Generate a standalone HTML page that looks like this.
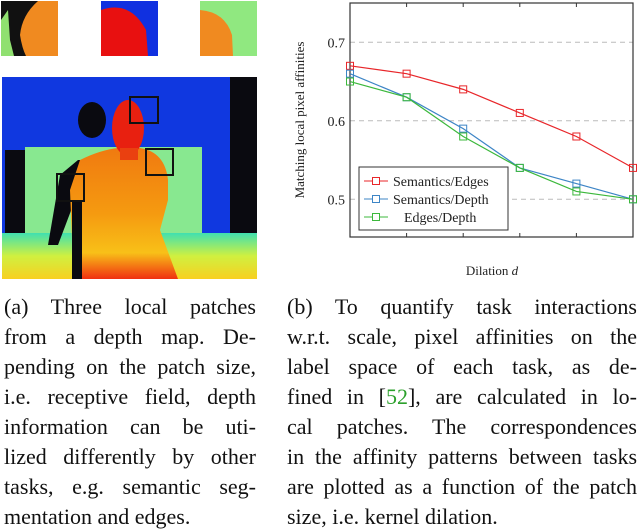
<!DOCTYPE html>
<html><head><meta charset="utf-8"><style>
body{margin:0;width:640px;height:529px;background:#fff;position:relative;overflow:hidden;font-family:"Liberation Serif",serif;}
.ln{position:absolute;font-size:22px;line-height:24px;white-space:nowrap;text-align:justify;text-align-last:justify;color:#111;}
.last{text-align-last:left;}
</style></head><body>
<svg style="position:absolute;left:0;top:0" width="270" height="285">
<defs>
<linearGradient id="body" x1="0" y1="0" x2="0" y2="1"><stop offset="0" stop-color="#f07a10"/><stop offset="0.5" stop-color="#f59a10"/><stop offset="0.8" stop-color="#f8c018"/><stop offset="1" stop-color="#f03010"/></linearGradient>
<linearGradient id="floor" x1="0" y1="0" x2="0" y2="1"><stop offset="0" stop-color="#40e0b0"/><stop offset="0.5" stop-color="#d0f040"/><stop offset="1" stop-color="#f8d020"/></linearGradient>
</defs>
<g><rect x="1" y="1" width="57" height="55" fill="#f08a20"/><path d="M1 1 L38 1 Q22 15 20 35 Q22 48 26 56 L1 56 Z" fill="#111"/><path d="M1 20 L8 10 L10 40 L14 56 L1 56Z" fill="#90e070"/></g>
<g><rect x="101" y="1" width="57" height="55" fill="#1030e0"/><path d="M101 10 Q130 0 146 30 L148 56 L101 56Z" fill="#e81010"/></g>
<g><rect x="200" y="1" width="57" height="55" fill="#90e880"/><path d="M200 10 Q225 12 232 35 L233 56 L200 56Z" fill="#f08a20"/></g>
<g>
<rect x="2" y="77" width="255" height="202" fill="#1038e0"/>
<rect x="230" y="77" width="27" height="165" fill="#0a0a10"/>
<rect x="25" y="147" width="177" height="90" fill="#88e890"/>
<rect x="5" y="150" width="20" height="90" fill="#0a0a10"/>
<rect x="2" y="233" width="255" height="46" fill="url(#floor)"/>
<ellipse cx="92" cy="120" rx="14" ry="18" fill="#0a0a10"/>
<path d="M60 175 L78 160 L90 160 L75 200 L58 245 L48 245Z" fill="#0a0a10"/>
<path d="M77 279 L72 240 L70 190 L80 160 Q100 150 118 148 L140 148 Q165 152 168 180 L168 200 L160 230 L178 279Z" fill="url(#body)"/>
<rect x="72" y="200" width="10" height="79" fill="#0a0a10"/>
<ellipse cx="128" cy="128" rx="16" ry="28" fill="#e82010"/>
<rect x="120" y="148" width="18" height="12" fill="#ea4010"/>
<rect x="130" y="97" width="28" height="26" fill="none" stroke="#111" stroke-width="2"/>
<rect x="146" y="149" width="27" height="26" fill="none" stroke="#111" stroke-width="2"/>
<rect x="57" y="174" width="27" height="27" fill="none" stroke="#111" stroke-width="2"/>
</g>
</svg>

<svg id="chart" style="position:absolute;left:280px;top:0" width="360" height="290"></svg>

<div>
<div class="ln" style="left:4px;top:295px;width:252px">(a) Three local patches</div>
<div class="ln" style="left:4px;top:325px;width:252px">from a depth map. De-</div>
<div class="ln" style="left:4px;top:355px;width:252px">pending on the patch size,</div>
<div class="ln" style="left:4px;top:385px;width:252px">i.e. receptive field, depth</div>
<div class="ln" style="left:4px;top:415px;width:252px">information can be uti-</div>
<div class="ln" style="left:4px;top:445px;width:252px">lized differently by other</div>
<div class="ln" style="left:4px;top:475px;width:252px">tasks, e.g. semantic seg-</div>
<div class="ln last" style="left:4px;top:505px;width:252px">mentation and edges.</div>
</div>
<div>
<div class="ln" style="left:287px;top:295px;width:350px">(b) To quantify task interactions</div>
<div class="ln" style="left:287px;top:325px;width:350px">w.r.t. scale, pixel affinities on the</div>
<div class="ln" style="left:287px;top:355px;width:350px">label space of each task, as de-</div>
<div class="ln" style="left:287px;top:385px;width:350px">fined in [<span style="color:#2ca02c">52</span>], are calculated in lo-</div>
<div class="ln" style="left:287px;top:415px;width:350px">cal patches. The correspondences</div>
<div class="ln" style="left:287px;top:445px;width:350px">in the affinity patterns between tasks</div>
<div class="ln" style="left:287px;top:475px;width:350px">are plotted as a function of the patch</div>
<div class="ln last" style="left:287px;top:505px;width:350px">size, i.e. kernel dilation.</div>
</div>

<script>
const categories = [1, 2, 3, 4, 5, 6];
const semEdges = [0.67, 0.66, 0.64, 0.61, 0.58, 0.54];
const semDepth = [0.66, 0.63, 0.59, 0.54, 0.52, 0.50];
const edgesDepth = [0.65, 0.63, 0.58, 0.54, 0.51, 0.50];
const yTicks = [0.5, 0.6, 0.7];
const seriesNames = ["Semantics/Edges", "Semantics/Depth", "Edges/Depth"];

const svg = document.getElementById('chart');
const NS = 'http://www.w3.org/2000/svg';
const L = 70, R = 353, T = 3, B = 237;
const yMin = 0.452, yMax = 0.75;
const xs = i => L + (R - L) * i / (categories.length - 1);
const ys = v => B - (v - yMin) / (yMax - yMin) * (B - T);
function mk(tag, attrs, parent) {
  const e = document.createElementNS(NS, tag);
  for (const k in attrs) e.setAttribute(k, attrs[k]);
  (parent || svg).appendChild(e);
  return e;
}
yTicks.forEach(t => {
  const g = mk('line', {x1: L, x2: R, y1: ys(t), y2: ys(t), stroke: '#bbb', 'stroke-dasharray': '5,4', 'stroke-width': 1});
  
  
  const tx = mk('text', {x: L - 5, y: ys(t) + 5, 'text-anchor': 'end', 'font-size': 14, 'font-family': 'Liberation Serif, serif', fill: '#222'});
  tx.textContent = t.toFixed(1);
  
  
});
categories.forEach((c, i) => {
  if (i > 0 && i < categories.length - 1) {
    mk('line', {x1: xs(i), x2: xs(i), y1: B, y2: B - 4, stroke: '#333'});
    mk('line', {x1: xs(i), x2: xs(i), y1: T, y2: T + 4, stroke: '#333'});
  }
});
const frame = mk('rect', {x: L, y: T, width: R - L, height: B - T, fill: 'none', stroke: '#333', 'stroke-width': 1.2});



const colors = ['#e8262a', '#3d85c6', '#3cb83c'];
[semEdges, semDepth, edgesDepth].forEach((s, k) => {
  const g = mk('g', {});
  
  
  mk('polyline', {points: s.map((v, i) => xs(i) + ',' + ys(v)).join(' '), fill: 'none', stroke: colors[k], 'stroke-width': 1.2}, g);
  s.forEach((v, i) => {
    const m = mk('rect', {x: xs(i) - 3.5, y: ys(v) - 3.5, width: 7, height: 7, fill: 'none', stroke: colors[k], 'stroke-width': 1}, g);
    
    
  });
});
const lg = mk('g', {});


mk('rect', {x: 79, y: 167, width: 149, height: 63, fill: '#fff', stroke: '#333', 'stroke-width': 1}, lg);
seriesNames.forEach((n, k) => {
  const y = 181 + k * 18;
  mk('line', {x1: 84, x2: 108, y1: y, y2: y, stroke: colors[k], 'stroke-width': 1.1}, lg);
  mk('rect', {x: 92.5, y: y - 3.5, width: 7, height: 7, fill: '#fff', stroke: colors[k]}, lg);
  const t = mk('text', {x: k === 2 ? 124 : 113, y: y + 5, 'font-size': 14, 'font-family': 'Liberation Serif, serif', fill: '#222'}, lg);
  t.textContent = n;
  
  
});
const yl = mk('text', {x: 0, y: 0, transform: 'translate(24,120) rotate(-90)', 'text-anchor': 'middle', 'font-size': 13, 'font-family': 'Liberation Serif, serif', fill: '#222'});
yl.textContent = 'Matching local pixel affinities';


const xl = mk('text', {x: 212, y: 275, 'text-anchor': 'middle', 'font-size': 13, 'font-family': 'Liberation Serif, serif', fill: '#222'});
xl.innerHTML = 'Dilation <tspan font-style="italic">d</tspan>';


</script>
</body></html>
